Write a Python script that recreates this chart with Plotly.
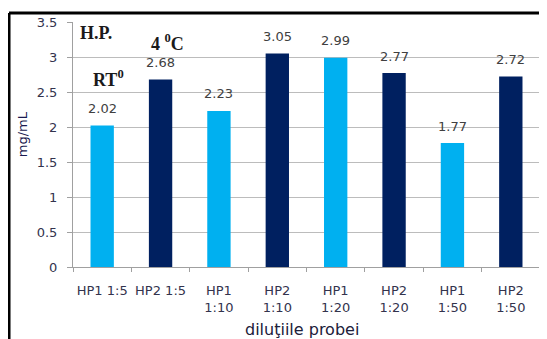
import plotly.graph_objects as go

categories = ["HP1 1:5", "HP2 1:5", "HP1 1:10", "HP2 1:10", "HP1 1:20", "HP2 1:20", "HP1 1:50", "HP2 1:50"]
tick_labels = ["HP1 1:5", "HP2 1:5", "HP1<br>1:10", "HP2<br>1:10", "HP1<br>1:20", "HP2<br>1:20", "HP1<br>1:50", "HP2<br>1:50"]
values = [2.02, 2.68, 2.23, 3.05, 2.99, 2.77, 1.77, 2.72]
bar_colors = ["#00B0F0", "#002060", "#00B0F0", "#002060", "#00B0F0", "#002060", "#00B0F0", "#002060"]

FONT = "DejaVu Sans, Verdana, sans-serif"

fig = go.Figure(go.Bar(
    x=categories, y=values, marker=dict(color=bar_colors, line=dict(width=0)),
    width=0.4,
))

# page has an 8px body margin, so the figure is 8px smaller on each axis
fig.update_layout(
    width=539, height=331, margin=dict(l=65, r=7, t=14, b=72, autoexpand=False),
    paper_bgcolor="white", plot_bgcolor="white", showlegend=False,
    xaxis=dict(tickvals=categories, ticktext=tick_labels, tickson="boundaries",
               ticks="outside", ticklen=4, tickcolor="#a0a0a0", showline=True,
               linecolor="#a0a0a0", showgrid=False, automargin=False,
               ticklabelstandoff=11, tickangle=0,
               tickfont=dict(family=FONT, size=13, color="#33334d")),
    yaxis=dict(range=[0, 3.5], dtick=0.5, ticks="outside", ticklen=5,
               tickcolor="#a0a0a0", showline=True, linecolor="#a0a0a0",
               gridcolor="#bcbcbc", gridwidth=1, zeroline=False, automargin=False,
               ticklabelstandoff=7,
               tickfont=dict(family=FONT, size=13, color="#33334d")),
    font=dict(family=FONT),
)

# value labels above the bars
for c, v in zip(categories, values):
    fig.add_annotation(text=f"{v:.2f}", x=c, y=v, xref="x", yref="y",
                       xanchor="center", yanchor="middle", yshift=17,
                       showarrow=False, font=dict(family=FONT, size=13, color="#404040"))

fig.add_annotation(text="mg/mL", xref="paper", yref="paper", x=-0.108, y=0.54,
                   textangle=-90, showarrow=False,
                   font=dict(family=FONT, size=13, color="#1a1a50"),
                   xanchor="center", yanchor="middle")
fig.add_annotation(text="diluţiile probei", xref="paper", yref="paper", x=0.491, y=-0.257,
                   showarrow=False, font=dict(family=FONT, size=16, color="#20203a"),
                   xanchor="center", yanchor="middle")

serif = dict(family="Liberation Serif, Times New Roman", size=18, color="#1a1a1a")
fig.add_annotation(text="<b>H.P.</b>", xref="paper", yref="y", x=0.05, y=3.34,
                   xanchor="center", yanchor="middle", showarrow=False, font=serif)
fig.add_annotation(text="<b>4 <sup>0</sup>C</b>", xref="paper", yref="y", x=0.203, y=3.21,
                   xanchor="center", yanchor="middle", showarrow=False, font=serif)
fig.add_annotation(text="<b>RT<sup>0</sup></b>", xref="paper", yref="y", x=0.075, y=2.7,
                   xanchor="center", yanchor="middle", showarrow=False, font=serif)

# outer frame lines (top and left)
fig.add_shape(type="line", xref="paper", yref="paper", x0=-0.137, x1=1.03, y0=1.037, y1=1.037,
              line=dict(color="black", width=3))
fig.add_shape(type="line", xref="paper", yref="paper", x0=-0.137, x1=-0.137, y0=1.037, y1=-0.33,
              line=dict(color="black", width=3))

fig.write_html("out.html")
